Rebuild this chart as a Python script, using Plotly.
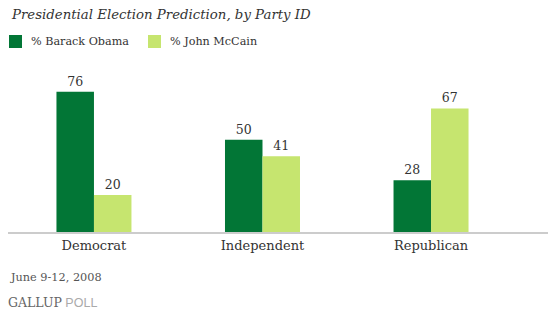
import plotly.graph_objects as go

categories = ["Democrat", "Independent", "Republican"]
obama = [76, 50, 28]
mccain = [20, 41, 67]
series_names = ["% Barack Obama", "% John McCain"]
colors = ["#027636", "#C6E56F"]

SERIF = "DejaVu Serif"

T, B = 80, 90
H = 322 - T - B
BOT = 322 - B
W = 540

def py(p):
    return (BOT - p) / H

def px(p):
    return (p - 8) / W

fig = go.Figure()
for name, vals, col in zip(series_names, [obama, mccain], colors):
    fig.add_trace(go.Bar(
        x=categories, y=vals, name=name, marker_color=col,
        marker_line_width=0,
        text=[str(v) for v in vals], textposition="outside",
        textfont=dict(family=SERIF, size=12.5, color="#333333"),
        cliponaxis=False, showlegend=False,
    ))

fig.update_layout(
    width=554, height=322,
    margin=dict(l=8, r=6, t=T, b=B),
    paper_bgcolor="white", plot_bgcolor="white",
    barmode="group", bargap=0.555, bargroupgap=0,
    xaxis=dict(range=[-0.51, 2.694], showline=True, linecolor="#cccccc", linewidth=2,
               ticks="", tickfont=dict(family=SERIF, size=13, color="#333333"),
               showgrid=False, fixedrange=True),
    yaxis=dict(range=[0, 82.4], visible=False, showgrid=False, fixedrange=True),
)

# title
fig.add_annotation(text="<i>Presidential Election Prediction, by Party ID</i>",
                   xref="paper", yref="paper", x=px(9), y=py(14),
                   xanchor="left", yanchor="middle", showarrow=False,
                   font=dict(family=SERIF, size=13.3, color="#333333"))

# legend (manual)
leg_x = [9, 148]
for i, (name, col) in enumerate(zip(series_names, colors)):
    fig.add_shape(type="rect", xref="paper", yref="paper",
                  x0=px(leg_x[i]), x1=px(leg_x[i] + 13),
                  y0=py(48), y1=py(35),
                  fillcolor=col, line_width=0)
    fig.add_annotation(text=name, xref="paper", yref="paper",
                       x=px(leg_x[i] + 20), y=py(41.5),
                       xanchor="left", yanchor="middle", showarrow=False,
                       font=dict(family=SERIF, size=11.2, color="#333333"))

# footer
fig.add_annotation(text="June 9-12, 2008", xref="paper", yref="paper",
                   x=px(8), y=py(277), xanchor="left", yanchor="middle",
                   showarrow=False, font=dict(family=SERIF, size=11.3, color="#555555"))
fig.add_annotation(text="<span style='color:#666666'>GALLUP</span><span style='font-family:Liberation Sans;color:#aaaaaa'> POLL</span>",
                   xref="paper", yref="paper",
                   x=px(6), y=py(302), xanchor="left", yanchor="middle",
                   showarrow=False, font=dict(family=SERIF, size=12.5, color="#666666"))

fig.write_html("out.html")
